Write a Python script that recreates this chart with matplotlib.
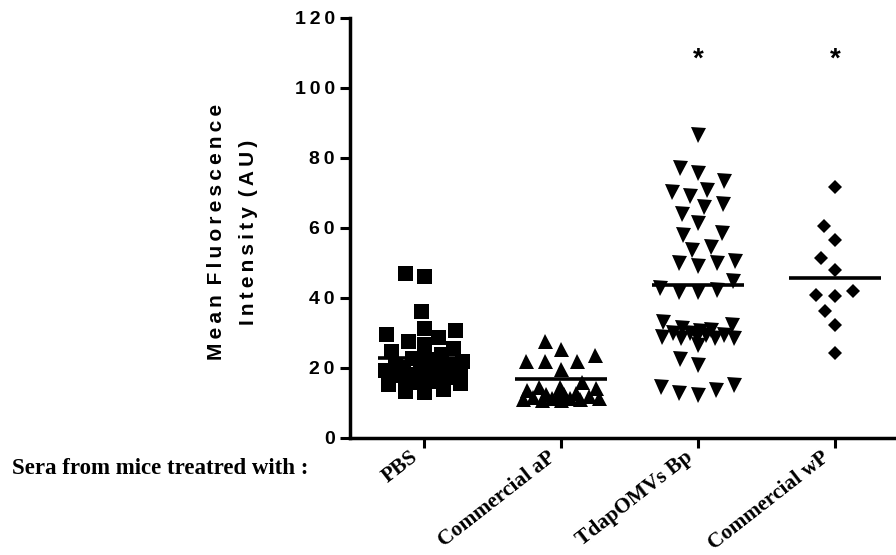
import numpy as np
from matplotlib import pyplot as plt
from matplotlib.transforms import ScaledTranslation

# groups and values (Prism scatter dot plot)
groups = ["PBS", "Commercial aP", "TdapOMVs Bp", "Commercial wP"]
markers = ["s", "^", "v", "D"]

pbs = [47.2, 46.3, 36.3, 31.5, 31.0, 29.7, 29.0, 27.8, 27.0, 25.6, 25.0, 24.0,
       23.0, 22.5, 22.0, 21.0, 20.5, 20.2, 20.0, 19.8, 19.5, 19.2,
       18.5, 18.2, 18.0, 17.8, 17.5, 17.2, 16.5, 16.2, 16.0, 15.8, 15.5,
       14.0, 13.5, 13.2]
acellular = [27.8, 25.3, 23.7, 22.1, 22.1, 22.1, 19.6, 16.1, 14.7, 14.7, 14.2,
             13.7, 13.0, 12.5, 12.0, 11.8, 11.5, 11.3, 11.2, 11.0, 11.0, 11.2,
             11.5, 12.0, 12.5]
omvs = [86.6, 77.2, 75.6, 73.4, 70.9, 70.4, 69.1, 66.9, 65.9, 64.0, 61.3, 58.5,
        58.0, 54.7, 53.7, 50.7, 50.1, 49.9, 49.1, 44.9, 42.8, 42.3, 41.8, 41.8,
        33.2, 32.3, 31.5, 31.0, 30.5, 30.0, 29.5, 29.0, 28.7, 28.5, 28.7, 29.0,
        29.5, 30.0, 26.6, 22.5, 20.9, 15.1, 14.6, 13.7, 12.9, 12.3]
whole_cell = [71.6, 60.6, 56.6, 51.3, 48.0, 42.1, 40.6, 40.9, 36.4, 32.3, 24.2]

means = [23.0, 16.8, 43.7, 45.8]
significant = [False, False, True, True]

yticks = [0, 20, 40, 60, 80, 100, 120]

SANS = ["Liberation Sans", "DejaVu Sans"]
SERIF = ["Liberation Serif", "DejaVu Serif"]
THIN = "\u2009"


def spaced(s):
    return THIN.join(s).replace(THIN + " " + THIN, " " + THIN)


def swarm(ax, x0, values, dx0=19.0, dy0=17.0, max_off=39.0):
    """Beeswarm in pixel space; squeezes points together where a row gets too wide."""
    pix_y = ax.transData.transform([(x0, v) for v in values])[:, 1]
    px_per_unit = ax.transData.transform((1, 0))[0] - ax.transData.transform((0, 0))[0]
    placed = []
    xs = np.zeros(len(values))
    for i in np.argsort(pix_y):
        y = pix_y[i]
        for scale in [1.0, 0.85, 0.72, 0.6, 0.5, 0.42, 0.35, 0.28, 0.2]:
            a, b = dx0 * scale, dy0 * scale
            cands = [0.0]
            for px, py in placed:
                dy = y - py
                if abs(dy) < b:
                    dx = a * np.sqrt(1 - (dy / b) ** 2)
                    cands += [px + dx, px - dx]
            cands.sort(key=lambda c: (abs(c), c))
            best = None
            for c in cands:
                if all(((c - px) / a) ** 2 + ((y - py) / b) ** 2 >= 1 - 1e-9
                       for px, py in placed):
                    best = c
                    break
            if best is not None and abs(best) <= max_off:
                break
        if best is None:
            best = 0.0
        placed.append((best, y))
        xs[i] = x0 + best / px_per_unit
    return xs


fig = plt.figure(figsize=(8.96, 5.55), dpi=100)
ax = fig.add_axes([350 / 896, 1 - 438 / 555, 546 / 896, 420 / 555])
ax.set_xlim(-0.54, 3.445)
ax.set_ylim(0, 120)

data = [pbs, acellular, omvs, whole_cell]
sizes = [10.8, 10.8, 10.8, 7.6]
for i, vals in enumerate(data):
    xs = swarm(ax, i, vals)
    ax.plot(xs, vals, linestyle="none", marker=markers[i], markersize=sizes[i],
            color="black", markeredgewidth=0, clip_on=False)
    ax.hlines(means[i], i - 0.335, i + 0.335, color="black", lw=2.6, zorder=3)
    if significant[i]:
        ax.text(i, 106, "*", ha="center", va="baseline", fontsize=20,
                fontweight="bold", family=SANS)

for side in ["top", "right"]:
    ax.spines[side].set_visible(False)
for side in ["left", "bottom"]:
    ax.spines[side].set_linewidth(2.5)

ax.set_yticks(yticks)
ax.set_yticklabels([spaced(str(t)) for t in yticks], family=SANS,
                   fontweight="bold", fontsize=14)
ax.set_xticks(range(len(groups)))
ax.set_xticklabels(groups, family=SERIF, fontweight="bold", fontsize=15.5,
                   rotation=38, ha="right", va="center", rotation_mode="anchor")
ax.tick_params(axis="both", length=7, width=2.2, direction="out", color="black")
ax.tick_params(axis="y", pad=4)
ax.tick_params(axis="x", pad=4)
shift = ScaledTranslation(-0.08, -0.02, fig.dpi_scale_trans)
for lab in ax.get_xticklabels():
    lab.set_transform(lab.get_transform() + shift)

fig.text(216 / 896, 1 - 232 / 555, spaced("Mean Fluorescence"),
         rotation=90, ha="center", va="center", family=SANS, fontweight="bold", fontsize=15)
fig.text(248 / 896, 1 - 232 / 555, spaced("Intensity (AU)"),
         rotation=90, ha="center", va="center", family=SANS, fontweight="bold", fontsize=15)

fig.text(12 / 896, 1 - 468 / 555, "Sera from mice treatred with :", ha="left",
         va="center", family=SERIF, fontweight="bold", fontsize=16.5)

fig.savefig("out.png", dpi=100)
